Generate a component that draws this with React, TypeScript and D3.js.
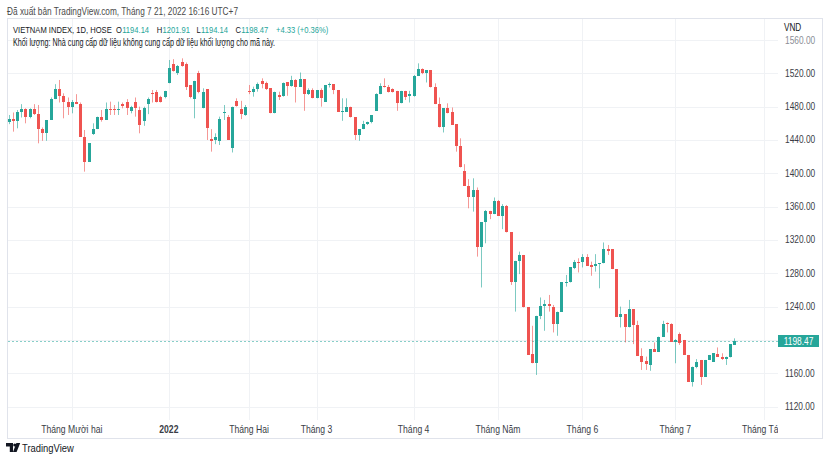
import React from "react";
import * as d3 from "d3";

// OHLC readings, one per trading day, index 0 = 10 Nov 2021 ... index 172 = 21 Jul 2022
const opens = [
  1462, 1465.6, 1463, 1474, 1477, 1467, 1477, 1471, 1453, 1448,
  1464, 1489, 1501, 1493, 1485, 1479, 1486, 1483, 1444, 1414,
  1447, 1453, 1468, 1464, 1477, 1477, 1476, 1483, 1485, 1475,
  1485, 1476, 1463, 1483, 1496, 1498, 1492, 1491, 1508, 1531,
  1520, 1534, 1531, 1506, 1489, 1520, 1478, 1501, 1441, 1440,
  1439, 1472, 1467, 1430, 1487, 1477, 1470, 1499, 1497, 1501,
  1511, 1508, 1502, 1472, 1494, 1493, 1509, 1505, 1512, 1504,
  1513, 1495, 1500, 1490, 1500, 1486, 1506, 1507, 1500, 1474,
  1474, 1480, 1467, 1446, 1453, 1459, 1461, 1475, 1495, 1505,
  1503, 1501, 1499, 1484, 1499, 1493, 1493, 1517, 1525, 1520,
  1524, 1503, 1483, 1455, 1478, 1473, 1459, 1433, 1403, 1385,
  1371, 1380, 1311, 1341, 1355, 1351, 1367, 1349, 1361, 1329,
  1270, 1295, 1302, 1239, 1183, 1172, 1229, 1241, 1243, 1240,
  1219, 1234, 1269, 1269, 1286, 1294, 1293, 1300, 1290, 1289,
  1291, 1292, 1309, 1309, 1285, 1228, 1231, 1215, 1237, 1218,
  1181, 1175, 1170, 1189, 1186, 1204, 1220, 1219, 1198, 1207,
  1200, 1182, 1150, 1167, 1176, 1156, 1176, 1174, 1183, 1180,
  1177, 1179, 1194.14,
];
const highs = [
  1470, 1473, 1476, 1483, 1478, 1478, 1483, 1482, 1455, 1464,
  1491, 1507, 1512, 1496, 1491, 1488, 1495, 1485, 1452, 1436,
  1460, 1468, 1476, 1485, 1486, 1482, 1486, 1485, 1489, 1481,
  1491, 1480, 1480, 1491, 1500, 1500, 1493, 1499, 1536, 1537,
  1530, 1538, 1533, 1506, 1511, 1523, 1502, 1501, 1453, 1448,
  1468, 1482, 1470, 1480, 1490, 1487, 1482, 1506, 1504, 1509,
  1514, 1510, 1502, 1498, 1498, 1509, 1509, 1517, 1513, 1521,
  1513, 1502, 1502, 1500, 1502, 1506, 1509, 1507, 1500, 1490,
  1490, 1480, 1467, 1453, 1463, 1462, 1470, 1496, 1508, 1514,
  1506, 1502, 1499, 1499, 1499, 1499, 1518, 1532, 1526, 1524,
  1524, 1508, 1491, 1478, 1484, 1479, 1459, 1442, 1411, 1393,
  1394, 1383, 1341, 1356, 1355, 1371, 1368, 1363, 1362, 1329,
  1295, 1306, 1302, 1239, 1217, 1229, 1251, 1248, 1254, 1242,
  1234, 1269, 1278, 1287, 1296, 1298, 1303, 1303, 1294, 1303,
  1292, 1317, 1314, 1309, 1285, 1240, 1231, 1248, 1237, 1223,
  1190, 1180, 1189, 1197, 1204, 1223, 1221, 1220, 1201, 1209,
  1200, 1182, 1168, 1177, 1176, 1176, 1182, 1184, 1191, 1184,
  1180, 1195, 1201.91,
];
const lows = [
  1459, 1450, 1454, 1467, 1460, 1466, 1470, 1436, 1439, 1439,
  1464, 1489, 1485, 1466, 1470, 1472, 1483, 1444, 1402, 1414,
  1446, 1453, 1462, 1464, 1470, 1470, 1470, 1478, 1470, 1472,
  1468, 1448, 1457, 1471, 1485, 1485, 1485, 1490, 1508, 1522,
  1518, 1528, 1500, 1490, 1466, 1496, 1478, 1440, 1426, 1435,
  1434, 1464, 1440, 1425, 1480, 1465, 1469, 1495, 1492, 1498,
  1502, 1500, 1472, 1472, 1488, 1492, 1493, 1504, 1485, 1504,
  1475, 1494, 1490, 1490, 1480, 1486, 1503, 1495, 1474, 1463,
  1474, 1467, 1440, 1439, 1453, 1458, 1460, 1475, 1495, 1503,
  1497, 1497, 1475, 1484, 1488, 1485, 1492, 1517, 1519, 1509,
  1503, 1483, 1455, 1449, 1472, 1458, 1426, 1407, 1385, 1358,
  1354, 1300, 1263, 1316, 1345, 1351, 1349, 1333, 1329, 1266,
  1234, 1279, 1239, 1182, 1172, 1158, 1225, 1211, 1234, 1209,
  1205, 1234, 1264, 1269, 1285, 1281, 1287, 1289, 1277, 1282,
  1262, 1292, 1302, 1285, 1228, 1215, 1197, 1215, 1195, 1181,
  1164, 1164, 1163, 1186, 1186, 1204, 1209, 1198, 1172, 1194,
  1182, 1150, 1144, 1166, 1146, 1156, 1176, 1174, 1180, 1176,
  1170, 1179, 1194.14,
];
const closes = [
  1465.6, 1462.8, 1473, 1477, 1467, 1477, 1471, 1453, 1448, 1464,
  1489, 1501, 1493, 1485, 1479, 1486, 1483, 1444, 1414, 1436,
  1453, 1468, 1464, 1477, 1476, 1476, 1477, 1481, 1478, 1479,
  1478, 1458, 1478, 1489, 1495, 1486, 1486, 1499, 1526, 1523,
  1529, 1529, 1504, 1492, 1511, 1497, 1497, 1454, 1439, 1443,
  1465, 1474, 1440, 1480, 1481, 1471, 1479, 1498, 1501, 1507,
  1507, 1501, 1472, 1497, 1492, 1508, 1505, 1512, 1504, 1513,
  1495, 1500, 1490, 1500, 1490, 1506, 1507, 1500, 1474, 1475,
  1480, 1467, 1446, 1453, 1459, 1462, 1470, 1495, 1505, 1504,
  1498, 1498, 1484, 1499, 1492, 1495, 1517, 1525, 1520, 1524,
  1503, 1483, 1455, 1478, 1472, 1458, 1433, 1407, 1385, 1371,
  1380, 1311, 1341, 1355, 1351, 1367, 1349, 1361, 1329, 1270,
  1295, 1302, 1239, 1182, 1172, 1229, 1241, 1243, 1241, 1219,
  1234, 1269, 1270, 1287, 1294, 1293, 1300, 1289, 1288, 1291,
  1292, 1309, 1307, 1285, 1228, 1231, 1215, 1237, 1218, 1181,
  1173, 1171, 1189, 1186, 1204, 1219, 1219, 1198, 1200, 1196,
  1182, 1150, 1168, 1173, 1156, 1176, 1182, 1184, 1180, 1177,
  1179, 1195, 1198.47,
];

const monthLabels = ["Tháng Mười hai", "2022", "Tháng Hai", "Tháng 3", "Tháng 4", "Tháng Năm", "Tháng 6", "Tháng 7", "Tháng Tám"];
const monthIndex = [15, 38, 57, 73, 96, 116, 136, 158, 179];
const priceTicks = [1120, 1160, 1200, 1240, 1280, 1320, 1360, 1400, 1440, 1480, 1520, 1560];
const lastPrice = 1198.47;

const headerText = "Đã xuất bản TradingView.com, Tháng 7 21, 2022 16:16 UTC+7";
const symbolText = "VIETNAM INDEX, 1D, HOSE";
const ohlcLabels = ["O", "H", "L", "C"];
const ohlcValues = ["1194.14", "1201.91", "1194.14", "1198.47"];
const changeText = "+4.33 (+0.36%)";
const volumeText = "Khối lượng: Nhà cung cấp dữ liệu không cung cấp dữ liệu khối lượng cho mã này.";

const UP = "#26a69a";
const DOWN = "#ef5350";
const FONT = "'Liberation Sans', Arial, sans-serif";
const NARROW = 0.82;

type NTProps = {
  x: number; y: number; size: number; fill: string; anchor?: string; weight?: string; sx?: number; children: React.ReactNode;
};
function NarrowText({ x, y, size, fill, anchor = "start", weight = "normal", sx = NARROW, children }: NTProps) {
  return (
    <text transform={`translate(${x},${y}) scale(${sx},1)`} fontSize={size} fill={fill}
      textAnchor={anchor} fontWeight={weight} style={{ whiteSpace: "pre" }}>
      {children}
    </text>
  );
}

type FTProps = { x: number; y: number; len: number; size: number; fill: string; children: React.ReactNode };
function FitText({ x, y, len, size, fill, children }: FTProps) {
  return (
    <text x={x} y={y} fontSize={size} fill={fill} textLength={len} lengthAdjust="spacingAndGlyphs">{children}</text>
  );
}

export default function App() {
  const W = 830, H = 464;
  const plot = { left: 8, right: 778, top: 19, bottom: 420 };
  const x = d3.scaleLinear().domain([0, 172]).range([8.5, 734.3]);
  const y = d3.scaleLinear().domain([1120, 1560]).range([406.6, 40]);
  const candles = opens.map((o, i) => ({ o, h: highs[i], l: lows[i], c: closes[i], i }));
  const fmt = d3.format(".2f");
  const lastY = Math.round(y(lastPrice));

  // legend layout: letter x and its advance width
  const LS = 9.5, LX = 0.8;
  const legendX = [116, 156.7, 196.5, 235.5];
  const letterW = [0.778, 0.722, 0.556, 0.722].map((w) => w * LS * LX + 0.3);

  return (
    <svg width={W} height={H} style={{ position: "absolute", left: 0, top: 0, background: "#fff" }} fontFamily={FONT}>
      <defs>
        <clipPath id="plotClip">
          <rect x={plot.left} y={plot.top} width={plot.right - plot.left} height={plot.bottom - plot.top} />
        </clipPath>
        <clipPath id="timeClip">
          <rect x={plot.left} y={plot.bottom} width={plot.right - plot.left} height={18} />
        </clipPath>
      </defs>
      <rect x={0} y={0} width={W} height={H} fill="#fff" />
      <FitText x={7} y={15} len={231} size={10.5} fill="#4a4a4a">{headerText}</FitText>

      {/* frame */}
      <rect x={7.5} y={18.5} width={815} height={420} fill="none" stroke="#e0e3eb" />

      <g clipPath="url(#plotClip)">
        {priceTicks.map((p) => (
          <line key={p} x1={plot.left} x2={plot.right} y1={Math.round(y(p)) + 0.5} y2={Math.round(y(p)) + 0.5} stroke="#f0f2f5" />
        ))}
        {monthIndex.map((m) => (
          <line key={m} x1={Math.round(x(m)) + 0.5} x2={Math.round(x(m)) + 0.5} y1={plot.top} y2={plot.bottom} stroke="#f0f2f5" />
        ))}
        <line x1={plot.left} x2={plot.right} y1={lastY + 0.5} y2={lastY + 0.5}
          stroke={UP} strokeOpacity={0.55} strokeDasharray="2,2" />
        {candles.map((d) => {
          const cx = Math.round(x(d.i));
          const col = d.c >= d.o ? UP : DOWN;
          const top = Math.round(y(Math.max(d.o, d.c)));
          const bot = Math.round(y(Math.min(d.o, d.c)));
          return (
            <g key={d.i}>
              <line x1={cx + 0.5} x2={cx + 0.5} y1={y(d.h)} y2={y(d.l)} stroke={col} strokeOpacity={0.6} />
              <rect x={cx - 1} y={top} width={3} height={Math.max(1, bot - top)} fill={col} />
            </g>
          );
        })}
      </g>

      {/* legend */}
      <NarrowText x={13} y={33} size={LS} sx={LX} fill="#131722">{symbolText}</NarrowText>
      {ohlcLabels.map((l, k) => (
        <React.Fragment key={l + k}>
          <NarrowText x={legendX[k]} y={33} size={LS} sx={LX} fill="#131722">{l}</NarrowText>
          <NarrowText x={legendX[k] + letterW[k]} y={33} size={LS} sx={LX} fill={UP}>{ohlcValues[k]}</NarrowText>
        </React.Fragment>
      ))}
      <NarrowText x={276} y={33} size={LS} sx={LX} fill={UP}>{changeText}</NarrowText>
      <FitText x={13} y={45.5} len={262} size={10.5} fill="#131722">{volumeText}</FitText>

      {/* price axis */}
      <NarrowText x={784} y={31} size={10} fill="#131722">VND</NarrowText>
      {priceTicks.filter((p) => Math.abs(y(p) - y(lastPrice)) > 10).map((p) => (
        <NarrowText key={p} x={785} y={y(p) + 3.5} size={10.2} fill={p === 1560 ? "#8a8d96" : "#3a3d46"}>
          {fmt(p)}
        </NarrowText>
      ))}
      <rect x={778} y={lastY - 6} width={41} height={12} fill={UP} />
      <NarrowText x={798.5} y={lastY + 4} size={10.2} fill="#fff" anchor="middle">{fmt(lastPrice)}</NarrowText>

      {/* time axis */}
      <g clipPath="url(#timeClip)">
        {monthLabels.map((m, k) => (
          <NarrowText key={m} x={x(monthIndex[k])} y={432.5} size={10.5} anchor="middle"
            fill="#3a3d46" weight={m === "2022" ? "bold" : "normal"}>{m}</NarrowText>
        ))}
      </g>

      {/* logo */}
      <g fill="#131722">
        <path d="M6 443 h7 v9 h-3.2 v-5.6 h-3.8 z" />
        <circle cx={14.8} cy={445} r={1.6} />
        <path d="M16.4 443 h3.8 l-3.6 9 h-3.6 z" />
      </g>
      <NarrowText x={22} y={451.5} size={11.5} fill="#131722">TradingView</NarrowText>
    </svg>
  );
}
